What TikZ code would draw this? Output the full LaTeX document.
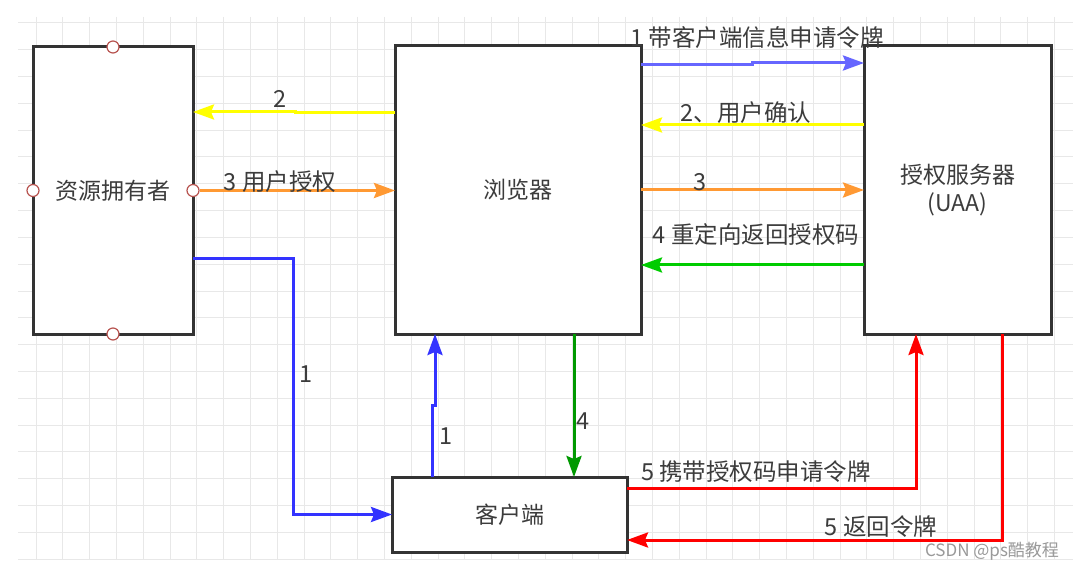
\documentclass[tikz,border=0pt]{standalone}
\usepackage{fontspec}
\setmainfont{Noto Sans CJK SC}
\usetikzlibrary{arrows.meta,calc}
\definecolor{gridc}{HTML}{E8E8E8}
\definecolor{boxc}{HTML}{333333}
\definecolor{txtc}{HTML}{3C3C3C}
\definecolor{portc}{HTML}{B85450}
\definecolor{blueA}{HTML}{6666FF}
\definecolor{blueB}{HTML}{3333FF}
\definecolor{yel}{HTML}{FFFF00}
\definecolor{ora}{HTML}{FF9933}
\definecolor{grnA}{HTML}{00CC00}
\definecolor{grnB}{HTML}{009900}
\definecolor{redc}{HTML}{FF0000}
\begin{document}
\begin{tikzpicture}[x=1pt,y=-1pt,
  box/.style={draw=boxc,line width=3pt,fill=white,rectangle,outer sep=0pt,inner sep=0pt,text=txtc,font=\fontsize{23}{28}\selectfont,align=center},
  port/.style={draw=portc,fill=white,circle,line width=1.2pt,minimum size=12pt,inner sep=0pt},
  conn/.style={line width=3pt,-{Stealth[length=21pt,width=15pt,inset=3pt]}},
  lbl/.style={text=txtc,font=\fontsize{23.5}{27}\selectfont,inner sep=0pt},
  wm/.style={text=black!40,font=\fontsize{17}{20}\selectfont,inner sep=0pt}]
\useasboundingbox (0,0) rectangle (1073,569);
\fill[white] (0,0) rectangle (1073,569);
% grid
\foreach \i in {0,...,38}{\draw[gridc,line width=1pt] ({36+26.8*\i},17) -- ({36+26.8*\i},560);}
\foreach \j in {0,...,20}{\draw[gridc,line width=1pt] (18,{23+26.8*\j}) -- (1073,{23+26.8*\j});}
% boxes
\node[box,minimum width=160pt,minimum height=287pt] (owner) at (113,190.5) {资源拥有者};
\node[box,minimum width=246pt,minimum height=288pt] (browser) at (518,190) {浏览器};
\node[box,minimum width=187pt,minimum height=288pt] (auth) at (957.5,190) {授权服务器\\(UAA)};
\node[box,minimum width=235pt,minimum height=75pt] (client) at (509.5,514.5) {客户端};
% ports
\node[port] (pn) at (owner.north) {};
\node[port] (pw) at (owner.west) {};
\node[port] (pe) at (owner.east) {};
\node[port] (ps) at (owner.south) {};
% connectors browser <-> auth
\draw[conn,blueA] ([yshift=-19pt]browser.north east) -- ++(111,0) -- ++(0,-2) -- ([yshift=-17pt]auth.north west);
\node[lbl] (l1) at (757,38) {1 带客户端信息申请令牌};
\draw[conn,yel] ([yshift=-79pt]auth.north west) -- ([yshift=-79pt]browser.north east);
\node[lbl] (l2) at (746,113) {2、用户确认};
\draw[conn,ora] (browser.east) -- (auth.west);
\node[lbl] (l3) at (700,182) {3};
\draw[conn,grnA] ([yshift=-219pt]auth.north west) -- ([yshift=-219pt]browser.north east);
\node[lbl] (l4) at (756,235) {4 重定向返回授权码};
% owner <-> browser
\draw[conn,yel] ([yshift=-67pt]browser.north west) -- ++(-100,0) -- ++(0,-1) -- ([yshift=-65pt]pe.center |- owner.north east);
\node[lbl] (l2b) at (280,99) {2};
\draw[conn,ora] (pe.east) -- (pe.east -| browser.west);
\node[lbl] (l3b) at (280,182) {3 用户授权};
% owner -> client
\draw[conn,blueB] ([yshift=-212pt]owner.north east) -- ++(100,0) |- (client.west);
\node[lbl] (l1b) at (306,374) {1};
% client -> browser
\draw[conn,blueB] ([xshift=40pt]client.north west) -- ++(0,-72) -- ++(3,0) coordinate (j1) -- (j1 |- browser.south);
\node[lbl] (l1c) at (446,436) {1};
% browser -> client
\draw[conn,grnB] ([xshift=179pt]browser.south west) -- ([xshift=182pt]client.north west);
\node[lbl] (l4b) at (583,421) {4};
% client <-> auth
\draw[conn,redc] ([yshift=-11pt]client.north east) -| ([xshift=52pt]auth.south west);
\node[lbl] (l5a) at (756,472) {5 携带授权码申请令牌};
\draw[conn,redc] ([xshift=138pt]auth.south west) |- ([yshift=-63pt]client.north east);
\node[lbl] (l5b) at (881,527) {5 返回令牌};
\node[wm] (wm) at (992,551) {CSDN @ps酷教程};
\end{tikzpicture}
\end{document}
